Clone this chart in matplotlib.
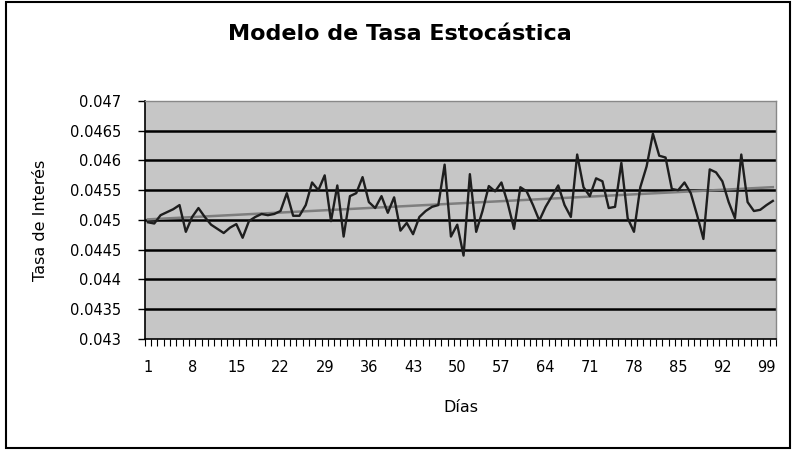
import numpy as np
import matplotlib
matplotlib.use("Agg")
import matplotlib.pyplot as plt
from matplotlib.patches import Rectangle

#### DATA ####

dias = list(range(1, 101))
tasa = [
    0.04496, 0.04494, 0.04508, 0.04513, 0.04518, 0.04525, 0.04480, 0.04505, 0.04520, 0.04505,
    0.04492, 0.04485, 0.04478, 0.04487, 0.04493, 0.04470, 0.04498, 0.04505, 0.04510, 0.04508,
    0.04510, 0.04515, 0.04545, 0.04507, 0.04507, 0.04525, 0.04563, 0.04550, 0.04575, 0.04498,
    0.04558, 0.04472, 0.04540, 0.04545, 0.04572, 0.04530, 0.04520, 0.04540, 0.04512, 0.04538,
    0.04482, 0.04495, 0.04476, 0.04505, 0.04515, 0.04522, 0.04525, 0.04593, 0.04472, 0.04492,
    0.04440, 0.04577, 0.04480, 0.04515, 0.04557, 0.04548, 0.04563, 0.04528, 0.04485, 0.04555,
    0.04548, 0.04525, 0.04499, 0.04522, 0.04540, 0.04558, 0.04525, 0.04505, 0.04610, 0.04555,
    0.04540, 0.04570, 0.04565, 0.04520, 0.04522, 0.04596, 0.04503, 0.04480, 0.04555, 0.04590,
    0.04645, 0.04608, 0.04605, 0.04552, 0.04550, 0.04563, 0.04545, 0.04508, 0.04468, 0.04585,
    0.04580, 0.04565, 0.04530, 0.04503, 0.04610, 0.04530, 0.04515, 0.04517, 0.04525, 0.04532,
]
x_ticks = list(range(1, 101, 7))
y_ticks = [0.043, 0.0435, 0.044, 0.0445, 0.045, 0.0455, 0.046, 0.0465, 0.047]
y_labels = ["0.043", "0.0435", "0.044", "0.0445", "0.045", "0.0455", "0.046", "0.0465", "0.047"]

#### PLOT ####

fig = plt.figure(figsize=(8, 4.53), dpi=100)
ax = fig.add_axes([0.181, 0.252, 0.789, 0.525])
ax.set_facecolor("#c6c6c6")

# outer chart frame
fig.patches.append(Rectangle((0.008, 0.01), 0.98, 0.985, transform=fig.transFigure,
                             fill=False, edgecolor="black", linewidth=1.5))

# horizontal gridlines
for y in y_ticks[1:-1]:
    ax.axhline(y, color="black", linewidth=1.8, zorder=1)

ax.plot(dias, tasa, color="#1e1e1e", linewidth=1.7, zorder=3)

# linear trend line
coef = np.polyfit(dias, tasa, 1)
ax.plot(dias, np.polyval(coef, dias), color="#7e7e7e", linewidth=1.8, zorder=2)

ax.set_xlim(0.5, 100.5)
ax.set_ylim(0.043, 0.047)
ax.set_xticks(x_ticks)
ax.set_xticklabels([str(t) for t in x_ticks], fontsize=10.5)
ax.set_xticks(np.arange(0.5, 101, 1), minor=True)
ax.tick_params(axis="x", which="major", length=0, pad=15)
ax.tick_params(axis="x", which="minor", length=5, width=0.8, direction="out")
ax.set_yticks(y_ticks)
ax.set_yticklabels(y_labels, fontsize=10.5)
ax.tick_params(axis="y", length=5, width=1, direction="out", pad=12)

for side in ["top", "right"]:
    ax.spines[side].set_color("#888888")
    ax.spines[side].set_linewidth(1)
ax.spines["left"].set_linewidth(1.2)
ax.spines["bottom"].set_linewidth(1.2)

ax.set_xlabel("Días", fontsize=11.5, labelpad=18)
ax.set_ylabel("Tasa de Interés", fontsize=11.5, labelpad=16)
fig.text(0.5, 0.925, "Modelo de Tasa Estocástica", ha="center", va="center",
         fontsize=16, fontweight="bold")

plt.savefig("out.png", dpi=100)
plt.close()
